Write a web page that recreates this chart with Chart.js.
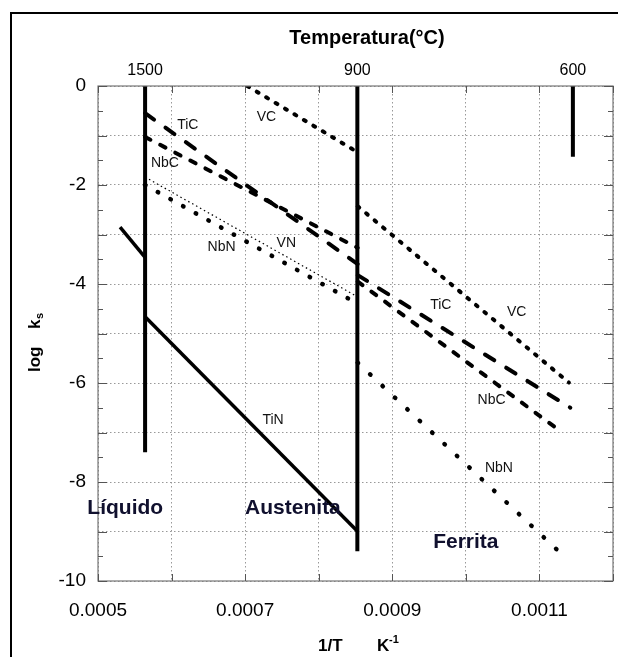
<!DOCTYPE html>
<html>
<head>
<meta charset="utf-8">
<script src="https://cdn.jsdelivr.net/npm/chart.js@4.4.1/dist/chart.umd.min.js"></script>
<style>
html, body { margin: 0; padding: 0; background: #fff; }
#wrap { position: relative; width: 618px; height: 657px; overflow: hidden; }
#frame { position: absolute; left: 10px; top: 12px; width: 700px; height: 700px; border: 2px solid #000; box-sizing: border-box; }
canvas { position: absolute; left: 0; top: 0; }
</style>
</head>
<body>
<div id="wrap"><div id="frame"></div><canvas id="chart" width="618" height="657"></canvas></div>
<script>
// fronteiras de fase (°C) e até onde cada linha vertical desce (log ks)
const boundaryTemps = [1500, 900, 600];
const boundaryBottom = [-7.4, -9.4, -1.43];

// eixos
const xTickLabels = ['0.0005', '0.0007', '0.0009', '0.0011'];
const yTickLabels = ['0', '-2', '-4', '-6', '-8', '-10'];

// curvas de solubilidade (1/T em K^-1, log ks)
const tinLiqX = [0.000530, 0.000564];
const tinLiqY = [-2.85, -3.46];
const tinAusX = [0.000564, 0.000853];
const tinAusY = [-4.66, -9.0];
const ticAusX = [0.000564, 0.000853];
const ticAusY = [-0.55, -3.6];
const ticFerX = [0.000853, 0.001142];
const ticFerY = [-3.82, -6.5];
const nbcAusX = [0.000564, 0.000853];
const nbcAusY = [-1.03, -3.27];
const nbcFerX = [0.000853, 0.001131];
const nbcFerY = [-3.95, -7.0];
const vcAusX = [0.000703, 0.000853];
const vcAusY = [0, -1.34];
const vcFerX = [0.000853, 0.00114];
const vcFerY = [-2.43, -5.99];
const nbnAusX = [0.000564, 0.000853];
const nbnAusY = [-2.0, -4.4];
const nbnFerX = [0.000853, 0.001124];
const nbnFerY = [-5.59, -9.37];
const vnAusX = [0.000564, 0.000853];
const vnAusY = [-1.84, -4.26];

// rótulos das curvas e das fases
const curveLabels = [
    ['TiC', 0.000622, -0.79], ['VC', 0.000729, -0.63], ['NbC', 0.000591, -1.56],
    ['NbN', 0.000668, -3.25], ['VN', 0.000756, -3.17], ['TiN', 0.000738, -6.75],
    ['TiC', 0.000966, -4.42], ['VC', 0.001069, -4.57], ['NbC', 0.001035, -6.34],
    ['NbN', 0.001045, -7.72]
];
const phaseLabels = [
    ['Líquido', 0.000537, -8.53], ['Austenita', 0.000765, -8.53], ['Ferrita', 0.001, -9.21]
];

const FONT = '"Liberation Sans", Arial, sans-serif';

const pts = (xs, ys) => xs.map((x, i) => ({ x: x, y: ys[i] }));
const line = (xs, ys, width, dash, cap) => ({
    data: pts(xs, ys),
    showLine: true,
    pointRadius: 0,
    borderColor: '#000',
    borderWidth: width,
    borderDash: dash,
    borderCapStyle: cap || 'butt',
    fill: false
});

const datasets = [];
boundaryTemps.forEach((t, i) => {
    const x = 1 / (t + 273);
    datasets.push(line([x, x], [0, boundaryBottom[i]], 4, []));
});
datasets.push(line(tinLiqX, tinLiqY, 3.5, []));
datasets.push(line(tinAusX, tinAusY, 3.5, []));
datasets.push(line(ticAusX, ticAusY, 4, [11, 14], 'round'));
datasets.push(line(ticFerX, ticFerY, 4, [11, 14], 'round'));
datasets.push(line(nbcAusX, nbcAusY, 4, [6, 11], 'round'));
datasets.push(line(nbcFerX, nbcFerY, 4, [6, 11], 'round'));
datasets.push(line(vcAusX, vcAusY, 4, [2, 9], 'round'));
datasets.push(line(vcFerX, vcFerY, 4, [2, 9], 'round'));
datasets.push(line(nbnAusX, nbnAusY, 4.5, [0.5, 14], 'round'));
datasets.push(line(nbnFerX, nbnFerY, 4.5, [0.5, 16.5], 'round'));
datasets.push(line(vnAusX, vnAusY, 1.2, [1.5, 3]));

const decor = {
    id: 'decor',
    afterDraw(chart) {
        const { ctx, chartArea: a, scales: { x, y } } = chart;
        ctx.save();
        ctx.strokeStyle = '#777';
        ctx.lineWidth = 1.2;
        ctx.setLineDash([]);
        ctx.strokeRect(a.left, a.top, a.right - a.left, a.bottom - a.top);

        // marcas internas
        ctx.strokeStyle = '#555';
        ctx.lineWidth = 1;
        for (let i = 0; i <= 20; i++) {
            const py = Math.round(y.getPixelForValue(-i / 2)) + 0.5;
            const len = i % 2 === 0 ? 9 : 5;
            ctx.beginPath();
            ctx.moveTo(a.left, py); ctx.lineTo(a.left + len, py);
            ctx.moveTo(a.right, py); ctx.lineTo(a.right - len, py);
            ctx.stroke();
        }
        for (let i = 0; i <= 7; i++) {
            const px = Math.round(x.getPixelForValue(0.0005 + i * 0.0001)) + 0.5;
            ctx.beginPath();
            ctx.moveTo(px, a.bottom); ctx.lineTo(px, a.bottom - 7);
            ctx.moveTo(px, a.top); ctx.lineTo(px, a.top + 7);
            ctx.stroke();
        }

        ctx.fillStyle = '#000';
        ctx.textBaseline = 'middle';
        ctx.textAlign = 'center';

        // eixo de temperatura no topo
        ctx.font = 'bold 20px ' + FONT;
        ctx.fillText('Temperatura(°C)', 367, 38);
        ctx.font = '16px ' + FONT;
        boundaryTemps.forEach(t => {
            ctx.fillText(String(t), x.getPixelForValue(1 / (t + 273)), 71);
        });

        // rótulos das curvas
        ctx.font = '14px ' + FONT;
        ctx.fillStyle = '#111';
        curveLabels.forEach(([t, vx, vy]) => ctx.fillText(t, x.getPixelForValue(vx), y.getPixelForValue(vy)));

        ctx.font = 'bold 21px ' + FONT;
        ctx.fillStyle = '#10102e';
        phaseLabels.forEach(([t, vx, vy]) => ctx.fillText(t, x.getPixelForValue(vx), y.getPixelForValue(vy)));

        // título do eixo x: 1/T   K^-1
        ctx.fillStyle = '#000';
        ctx.textAlign = 'left';
        ctx.textBaseline = 'alphabetic';
        ctx.font = 'bold 17px ' + FONT;
        ctx.fillText('1/T', 318, 651);
        ctx.fillText('K', 377, 651);
        ctx.font = 'bold 11px ' + FONT;
        ctx.fillText('-1', 389, 643);

        // título do eixo y: log ks
        ctx.translate(40, 333);
        ctx.rotate(-Math.PI / 2);
        ctx.font = 'bold 17px ' + FONT;
        ctx.fillText('log', -39, 0);
        ctx.fillText('k', 4, 0);
        ctx.font = 'bold 11px ' + FONT;
        ctx.fillText('s', 14, 3);
        ctx.restore();
    }
};

new Chart(document.getElementById('chart').getContext('2d'), {
    type: 'scatter',
    data: { datasets: datasets },
    plugins: [decor],
    options: {
        responsive: false,
        devicePixelRatio: 1,
        animation: false,
        layout: { padding: { top: 86, right: 5, left: 0, bottom: 0 } },
        plugins: { legend: { display: false }, tooltip: { enabled: false } },
        scales: {
            x: {
                type: 'linear',
                min: 0.0005,
                max: 0.0012,
                afterFit: s => { s.height = 76; s.paddingLeft = 0; s.paddingRight = 0; },
                grid: { color: '#999', lineWidth: 1, drawTicks: false },
                border: { display: false, dash: [1.5, 2.5] },
                ticks: {
                    stepSize: 0.0001,
                    autoSkip: false,
                    maxRotation: 0,
                    padding: 18,
                    color: '#000',
                    font: { family: FONT, size: 19 },
                    callback: v => {
                        const i = Math.round((v - 0.0005) / 0.0001);
                        return i % 2 === 0 && xTickLabels[i / 2] ? xTickLabels[i / 2] : '';
                    }
                }
            },
            y: {
                min: -10,
                max: 0,
                afterFit: s => { s.width = 98; s.paddingTop = 0; s.paddingBottom = 0; },
                grid: { color: '#999', lineWidth: 1, drawTicks: false },
                border: { display: false, dash: [1.5, 2.5] },
                ticks: {
                    stepSize: 1,
                    autoSkip: false,
                    padding: 12,
                    color: '#000',
                    font: { family: FONT, size: 19 },
                    callback: v => {
                        const i = Math.round(-v);
                        return i % 2 === 0 ? yTickLabels[i / 2] : '';
                    }
                }
            }
        }
    }
});
</script>
</body>
</html>
